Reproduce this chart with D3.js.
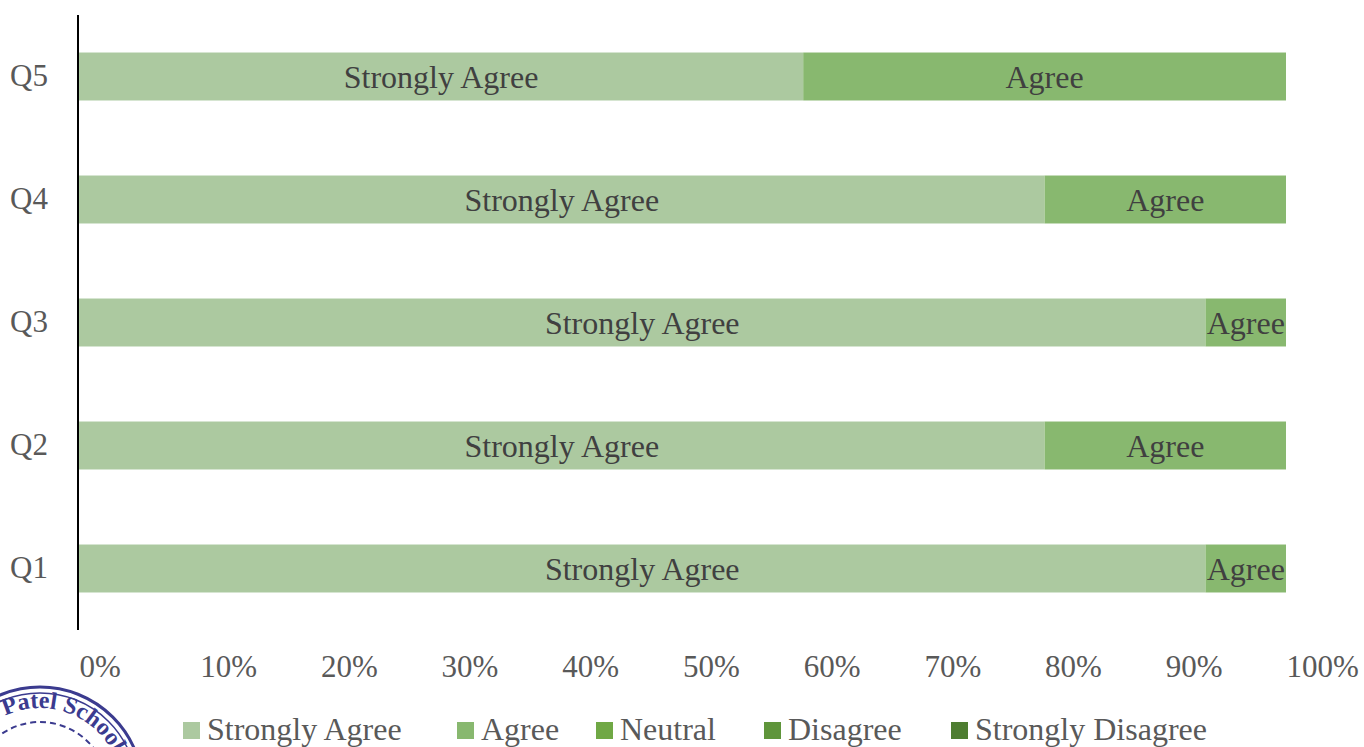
<!DOCTYPE html>
<html>
<head>
<meta charset="utf-8">
<script src="https://cdn.jsdelivr.net/npm/d3@7"></script>
<style>
  body { margin: 0; background: #fff; }
  svg text { font-family: "Liberation Serif", "DejaVu Serif", serif; }
</style>
</head>
<body>
<div id="chart"></div>
<script>
// survey responses, percent of respondents
var questions = ["Q1", "Q2", "Q3", "Q4", "Q5"];
var categories = ["Strongly Agree", "Agree", "Neutral", "Disagree", "Strongly Disagree"];
var stronglyAgree = [93.33, 80, 93.33, 80, 60];
var agree = [6.67, 20, 6.67, 20, 40];
var neutral = [0, 0, 0, 0, 0];
var disagree = [0, 0, 0, 0, 0];
var stronglyDisagree = [0, 0, 0, 0, 0];
var xTicks = [0, 10, 20, 30, 40, 50, 60, 70, 80, 90, 100];
var colors = ["#acc9a0", "#88b86f", "#70a845", "#5f953b", "#4e7d31"];

var width = 1364, height = 747;
var plotLeft = 79, plotRight = 1286, plotTop = 15, plotBottom = 630;

var rows = questions.map(function (q, i) {
  return {
    q: q,
    "Strongly Agree": stronglyAgree[i],
    "Agree": agree[i],
    "Neutral": neutral[i],
    "Disagree": disagree[i],
    "Strongly Disagree": stronglyDisagree[i]
  };
});

var svg = d3.select("#chart").append("svg")
  .attr("width", width)
  .attr("height", height);

var x = d3.scaleLinear().domain([0, 100]).range([plotLeft, plotRight]);
var y = d3.scaleBand().domain(questions.slice().reverse())
  .range([plotTop, plotBottom]).paddingInner(0.61).paddingOuter(0.305);
var color = d3.scaleOrdinal().domain(categories).range(colors);

var stacked = d3.stack().keys(categories)(rows);

var layer = svg.selectAll("g.layer")
  .data(stacked)
  .join("g")
  .attr("class", "layer")
  .attr("fill", function (d) { return color(d.key); });

layer.selectAll("rect")
  .data(function (d) { return d; })
  .join("rect")
  .attr("x", function (d) { return x(d[0]); })
  .attr("width", function (d) { return x(d[1]) - x(d[0]); })
  .attr("y", function (d) { return y(d.data.q); })
  .attr("height", y.bandwidth());

// labels inside segments
layer.each(function (s) {
  d3.select(this).selectAll("text")
    .data(s.filter(function (d) { return d[1] - d[0] > 0; }))
    .join("text")
    .attr("x", function (d) { return (x(d[0]) + x(d[1])) / 2; })
    .attr("y", function (d) { return y(d.data.q) + y.bandwidth() / 2; })
    .attr("dy", "0.35em")
    .attr("text-anchor", "middle")
    .attr("fill", "#404040")
    .style("font-size", "32px")
    .text(s.key);
});

// y axis
var yAxis = svg.append("g")
  .attr("transform", "translate(" + (plotLeft - 1) + ",0)")
  .call(d3.axisLeft(y).tickSize(0).tickPadding(30));
yAxis.select(".domain").attr("stroke", "#000").attr("stroke-width", 2)
  .attr("d", "M0," + plotTop + "V" + plotBottom);
yAxis.selectAll("text").attr("fill", "#595959").style("font-size", "31px");

// x axis labels, left aligned on the tick
var xAxis = svg.append("g")
  .attr("transform", "translate(0," + plotBottom + ")")
  .call(d3.axisBottom(x).tickValues(xTicks).tickSize(0).tickFormat(function (d) { return d + "%"; }));
xAxis.select(".domain").remove();
xAxis.selectAll("text")
  .attr("text-anchor", "start")
  .attr("y", 47).attr("dy", null)
  .attr("fill", "#595959")
  .style("font-size", "31px");

// legend
var legendX = [183, 457, 596, 764, 951];
var legend = svg.append("g").selectAll("g")
  .data(categories)
  .join("g")
  .attr("transform", function (d, i) { return "translate(" + legendX[i] + ",722)"; });
legend.append("rect")
  .attr("width", 17).attr("height", 17)
  .attr("fill", function (d) { return color(d); });
legend.append("text")
  .attr("x", 24).attr("y", 18)
  .attr("fill", "#595959")
  .style("font-size", "32px")
  .text(function (d) { return d; });

// school stamp in the corner
var stamp = svg.append("g").attr("transform", "translate(40,790)").attr("fill", "none").attr("stroke", "#3b3b8f");
stamp.append("circle").attr("r", 103).attr("stroke-width", 3);
stamp.append("circle").attr("r", 97).attr("stroke-width", 1.5);
stamp.append("circle").attr("r", 68).attr("stroke-width", 2).attr("stroke-dasharray", "6,4");
stamp.append("path").attr("id", "stampArc").attr("stroke", "none")
  .attr("d", "M-82,0 A82,82 0 0,1 82,0");
stamp.append("text")
  .attr("fill", "#3b3b8f").attr("stroke", "none")
  .style("font-size", "24px").style("font-weight", "bold")
  .append("textPath").attr("href", "#stampArc").attr("startOffset", "36%")
  .text("Patel School");
</script>
</body>
</html>
